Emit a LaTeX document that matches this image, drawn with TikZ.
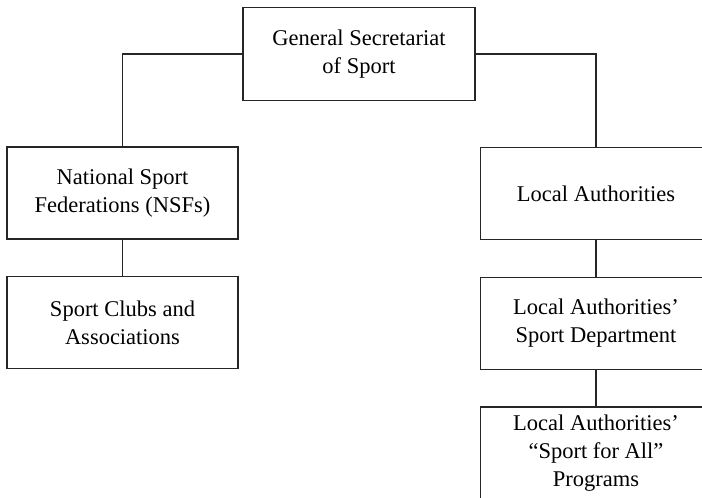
\documentclass[tikz,border=0pt]{standalone}
\usepackage{fontspec}
\setmainfont{Liberation Serif}
\usetikzlibrary{positioning}

\begin{document}
\begin{tikzpicture}[
    x=1pt, y=-1pt,
    orgbox/.style={rectangle, draw=black!85, line width=1.3pt, minimum width=231pt,
                   minimum height=92pt, inner sep=2pt, align=center,
                   font=\fontsize{22.5}{28}\selectfont},
    link/.style={draw=black!85, line width=1.3pt}
]
    \clip (0, 0) rectangle (702, 498);
    \useasboundingbox (0, 0) rectangle (702, 498);

    % Top
    \node[orgbox, minimum width=232pt, minimum height=93pt] (gss) at (359, 54) {General Secretariat\\of Sport};

    % Left branch
    \node[orgbox] (nsf) at (122.5, 193) {National Sport\\Federations (NSFs)};
    \node[orgbox] (clubs) at (122.5, 322.5) {Sport Clubs and\\Associations};

    % Right branch
    \node[orgbox] (la) at (596, 193.5) {Local Authorities};
    \node[orgbox] (lasd) at (596, 323.5) {Local Authorities'\\Sport Department};
    \node[orgbox, minimum height=93pt] (lasfa) at (596, 453.5) {Local Authorities'\\``Sport for All''\\Programs};

    \draw[link] (gss.west) -| (nsf.north);
    \draw[link] (gss.east) -| (la.north);
    \draw[link] (nsf) -- (clubs);
    \draw[link] (la) -- (lasd);
    \draw[link] (lasd) -- (lasfa);
\end{tikzpicture}
\end{document}
